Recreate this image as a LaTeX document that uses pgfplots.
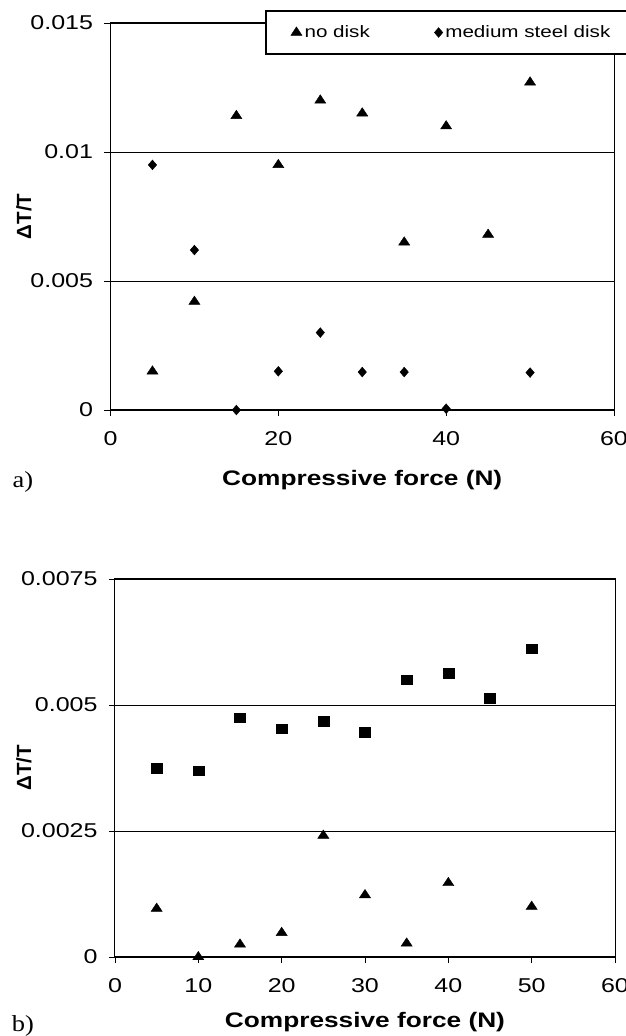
\documentclass[border=0pt]{standalone}
\usepackage{fontspec}
\setmainfont{Liberation Sans}[FakeStretch=1.25]
\newfontfamily\plainsans{Liberation Sans}
\newfontfamily\serifface{Liberation Serif}[FakeStretch=1.15]
\usepackage{pgfplots}
\pgfplotsset{compat=1.18}

\pgfplotsset{
  scanstyle/.style={
    scale only axis, clip=false,
    axis line style={line width=1pt},
    tick pos=left, tick align=outside, major tick length=6pt,
    tick style={black, line width=0.8pt},
    ymajorgrids, grid style={black, line width=0.7pt},
    xmin=0, xmax=60,
    /pgf/number format/assume math mode=true,
    tick label style={font=\fontsize{20}{24}\selectfont},
    yticklabel style={/pgf/number format/fixed, /pgf/number format/precision=4, xshift=-8pt},
    xticklabel style={yshift=-12pt},
    scaled y ticks=false,
    xlabel style={font=\fontsize{21}{25}\selectfont\bfseries, at={(rel axis cs:0.5,0)}, anchor=center},
    ylabel style={font=\plainsans\fontsize{20.5}{24}\selectfont\bfseries, anchor=center},
  },
  tri/.style={only marks, black, mark=triangle*, mark size=5.6pt, mark options={xscale=1.15}},
  dia/.style={only marks, black, mark=diamond*, mark size=4.9pt, mark options={xscale=1.15}},
  sqr/.style={only marks, black, mark=square*, mark size=4.8pt, mark options={xscale=1.15}},
}

\begin{document}
\begin{tikzpicture}[x=1pt,y=1pt]
\useasboundingbox (0,0) rectangle (626,1036);

% a) no disk vs medium steel disk
\begin{axis}[scanstyle,
  at={(110.5pt,626pt)}, anchor=south west, width=503.5pt, height=387pt,
  ymin=0, ymax=0.015,
  xtick={0,20,40,60}, ytick={0,0.005,0.01,0.015},
  xlabel={Compressive force (N)}, xlabel style={yshift=-70pt},
  ylabel={ΔT/T}, ylabel style={at={(rel axis cs:-0.172,0.5)}},
  legend columns=2, legend cell align=left,
  legend style={at={(rel axis cs:0.307,1.0336)}, anchor=north west,
    draw=black, line width=1.6pt, fill=white,
    font=\fontsize{16.5}{19}\selectfont,
    inner xsep=25pt, inner ysep=12pt,
    nodes={inner xsep=2.5pt, inner ysep=3pt},
    /tikz/every even column/.append style={column sep=62pt}},
  legend image code/.code={\draw[line width=0.4pt,mark repeat=2,mark phase=2,#1] plot coordinates {(0pt,0pt)(4pt,0pt)(8pt,0pt)};},
]
\addplot[tri] coordinates {
(5,0.0015) (10,0.0042) (15,0.0114) (20,0.0095) (25,0.0120)
(30,0.0115) (35,0.0065) (40,0.0110) (45,0.0068) (50,0.0127)};
\addlegendentry{no disk}
\addplot[dia] coordinates {
(5,0.0095) (10,0.0062) (15,0.0) (20,0.0015) (25,0.0030)
(30,0.00147) (35,0.00147) (40,0.00005) (50,0.00145)};
\addlegendentry{medium steel disk}
\end{axis}

% b)
\begin{axis}[scanstyle,
  at={(115pt,79pt)}, anchor=south west, width=500pt, height=378pt,
  ymin=0, ymax=0.0075,
  xtick={0,10,20,30,40,50,60}, ytick={0,0.0025,0.005,0.0075},
  xlabel={Compressive force (N)}, xlabel style={yshift=-65pt},
  ylabel={ΔT/T}, ylabel style={at={(rel axis cs:-0.182,0.5)}},
]
\addplot[sqr] coordinates {
(5,0.00375) (10,0.0037) (15,0.00475) (20,0.00453) (25,0.00468)
(30,0.00446) (35,0.0055) (40,0.00563) (45,0.00514) (50,0.00612)};
\addplot[tri] coordinates {
(5,0.00096) (10,0.0) (15,0.00025) (20,0.00048) (25,0.00241)
(30,0.00123) (35,0.00027) (40,0.00147) (50,0.0010)};
\end{axis}

\node[font=\serifface\fontsize{23}{27}\selectfont] at (23,554) {a)};
\node[font=\serifface\fontsize{23}{27}\selectfont] at (23,10) {b)};
\end{tikzpicture}
\end{document}
